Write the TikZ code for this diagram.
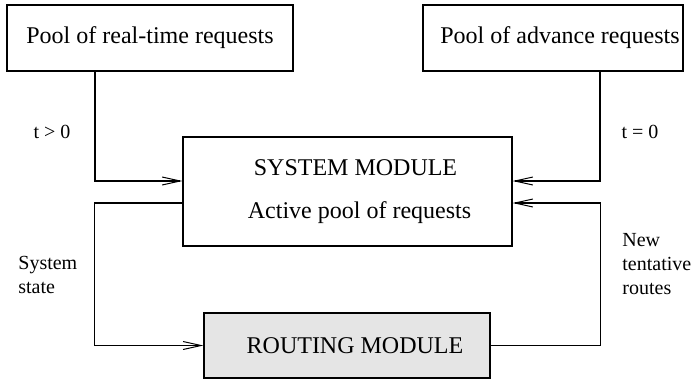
\documentclass[tikz,border=0pt]{standalone}
\usepackage{fontspec}
\setmainfont{Liberation Serif}
\usetikzlibrary{arrows.meta}
\tikzset{
  module/.style={draw, line width=0.6pt, inner sep=0pt, font=\fontsize{12}{21.5}\selectfont, align=center},
  lbl/.style={inner sep=0pt, font=\fontsize{10}{12}\selectfont, align=left},
  arr/.style={line width=0.6pt, -{Straight Barb[length=9pt,width=4pt,line width=0.5pt]}}
}
\begin{document}
\begin{tikzpicture}[x=0.5pt,y=-0.5pt]
  \useasboundingbox (0,0) rectangle (691,381);
  \node[module, minimum width=143pt, minimum height=33pt] (rt) at (150,38) {Pool of real-time requests};
  \node[module, minimum width=130pt, minimum height=33pt] (adv) at (553,38) {\hspace{7pt}Pool of advance requests};
  \node[module, minimum width=164.5pt, minimum height=54.5pt] (sys) at (347.5,191.5) {\hspace{8pt}SYSTEM MODULE\\\hspace{12pt}Active pool of requests};
  \node[module, fill=gray!20, minimum width=143pt, minimum height=32.5pt] (rout) at (347,345.5) {\hspace{8pt}ROUTING MODULE};
  \node[lbl] (tpos) at (52,132) {t > 0};
  \node[lbl] (tzero) at (640,132) {t = 0};
  \node[lbl, anchor=west] (state) at (18,275) {System\\state};
  \node[lbl, anchor=west] (routes) at (622,264) {New\\tentative\\routes};
  \begin{scope}[arr]
    \draw ([xshift=-27.5pt]rt.south) |- ([yshift=5.25pt]sys.west);
    \draw ([xshift=23.5pt]adv.south) |- ([yshift=5.25pt]sys.east);
    \draw ([yshift=-5.75pt]sys.west) -- ++(-88,0) |- (rout.west);
    \draw (rout.east) -- ++(110,0) |- ([yshift=-5.75pt]sys.east);
  \end{scope}
\end{tikzpicture}
\end{document}
